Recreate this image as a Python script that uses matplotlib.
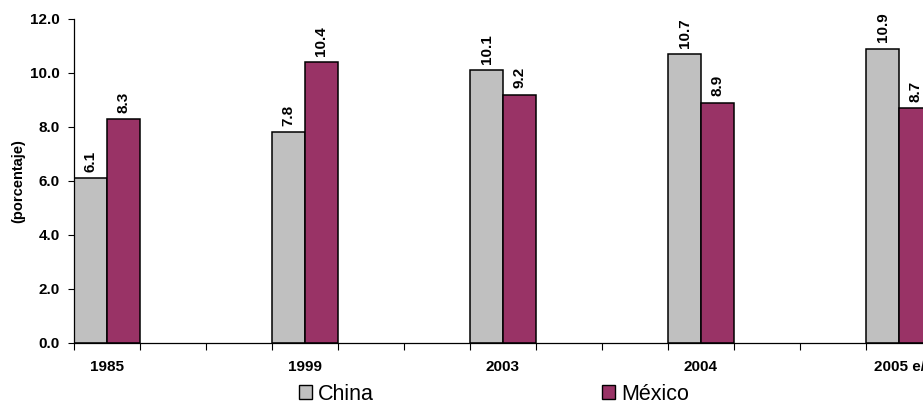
import matplotlib
matplotlib.use("Agg")
import matplotlib.pyplot as plt
from matplotlib.patches import Patch
import numpy as np

plt.rcParams['font.family'] = ['Liberation Sans', 'DejaVu Sans']

categories = ["1985", "1999", "2003", "2004", "2005 e/"]
china = [6.1, 7.8, 10.1, 10.7, 10.9]
mexico = [8.3, 10.4, 9.2, 8.9, 8.7]
series_names = ["China", "México"]
yticks = [0, 2, 4, 6, 8, 10, 12]

c_china = "#C0C0C0"
c_mex = "#993366"

W, H = 923, 404
fig = plt.figure(figsize=(W / 100, H / 100), dpi=100)
ax = fig.add_axes([74 / W, 61 / H, 858 / W, 324 / H])

step = 3
pos = np.arange(len(categories)) * step
bw = 0.5
b1 = ax.bar(pos + bw / 2, china, width=bw, color=c_china, edgecolor="black", linewidth=1.1)
b2 = ax.bar(pos + 1.5 * bw, mexico, width=bw, color=c_mex, edgecolor="black", linewidth=1.1)

for bars, vals in ((b1, china), (b2, mexico)):
    for r, v in zip(bars, vals):
        ax.annotate(f"{v:.1f}", (r.get_x() + r.get_width() / 2, v),
                    xytext=(0, 4.5), textcoords="offset points",
                    rotation=90, ha="center", va="bottom",
                    fontsize=11, fontweight="bold")

ax.set_xlim(0, pos[-1] + 1)
ax.set_ylim(0, 12)
ax.set_xticks(np.arange(0, pos[-1] + 2, 1))
ax.set_xticklabels([])
ax.set_xticks(pos + 0.5, minor=True)
ax.set_xticklabels(categories, minor=True, fontsize=11, fontweight="bold")
ax.tick_params(axis="x", which="major", length=5, width=0.8, direction="out")
ax.tick_params(axis="x", which="minor", length=0, pad=12.5)
ax.set_yticks(yticks)
ax.set_yticklabels([f"{v:.1f}" for v in yticks], fontsize=11, fontweight="bold")
ax.tick_params(axis="y", length=4, width=0.8, direction="out", pad=6)
ax.set_ylabel("(porcentaje)", fontsize=10.5, fontweight="bold", labelpad=4)

for s in ("top", "right"):
    ax.spines[s].set_visible(False)
for s in ("left", "bottom"):
    ax.spines[s].set_linewidth(0.9)

handles = [Patch(facecolor=c_china, edgecolor="black", linewidth=1.0),
           Patch(facecolor=c_mex, edgecolor="black", linewidth=1.0)]
fs_leg = 15.5
fig.legend(handles, series_names, loc="center left",
           bbox_to_anchor=(299 / W, 1 - 394 / H), ncol=2, frameon=False,
           fontsize=fs_leg, handlelength=0.6, handleheight=0.6,
           handletextpad=0.28, columnspacing=10.6, borderpad=0, borderaxespad=0)

fig.savefig("out.png", dpi=100)
